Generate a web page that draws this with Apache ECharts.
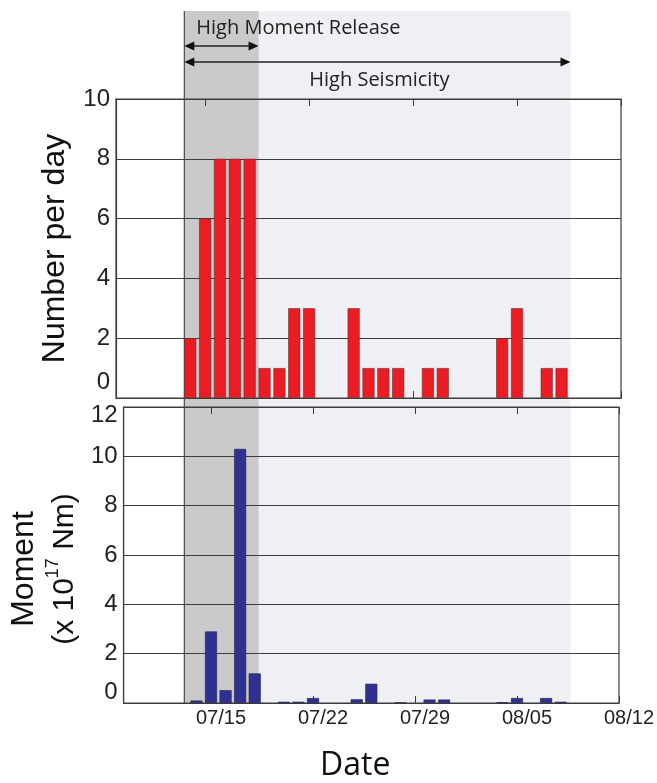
<!DOCTYPE html>
<html><head><meta charset="utf-8">
<script src="https://cdn.jsdelivr.net/npm/echarts@6/dist/echarts.min.js"></script>
<style>html,body{margin:0;padding:0;background:#fff}#c{width:657px;height:783px}</style>
</head><body><div id="c"></div>
<script>
// ---- data ----
const dates = ['07/14','07/15','07/16','07/17','07/18','07/19','07/20','07/21','07/22','07/23','07/24','07/25','07/26','07/27','07/28','07/29','07/30','07/31','08/01','08/02','08/03','08/04','08/05','08/06','08/07','08/08'];
const counts = [2,6,8,8,8,1,1,3,3,0,0,3,1,1,1,0,1,1,0,0,0,2,3,0,1,1];
const moments = [0.1,2.9,0.52,10.3,1.2,0,0.05,0.05,0.2,0,0,0.15,0.78,0,0.02,0,0.14,0.14,0,0,0,0.03,0.2,0,0.2,0.05];
const countTicks = [0,2,4,6,8,10];
const momentTicks = [0,2,4,6,8,10,12];
const dateTicks = ['07/15','07/22','07/29','08/05','08/12'];
const axisRange = ['07/09','08/12'];
// periods in days relative to 07/15
const periodLabels = ['High Moment Release','High Seismicity'];
const periodFrom = [-1.4,-1.4];
const periodTo = [3.6,24.6];

const ref = Date.UTC(2000,6,15);
function dayOf(s){const [m,d]=s.split('/').map(Number);return (Date.UTC(2000,m-1,d)-ref)/86400000;}
const tickDays = dateTicks.map(dayOf);
const xMin = dayOf(axisRange[0]), xMax = dayOf(axisRange[1]);

const FONT = '"Liberation Sans", Arial, sans-serif';
const dark = '#3d3d3d';

function xAx(grid, pos, labels){
  const a = {
    gridIndex:grid, type:'value', min:xMin, max:xMax, position:pos,
    axisLine:{show:true, onZero:false, lineStyle:{color:dark,width:1.2}},
    axisTick:{show:true, inside:true, length:7, customValues:tickDays, lineStyle:{color:dark,width:1}},
    axisLabel:{show:labels}, splitLine:{show:false}
  };
  if(labels){
    a.axisLabel = {show:true, customValues:tickDays, margin:5, fontSize:20, fontFamily:FONT, color:'#222',
      padding:[0,0,0,20], formatter:v=>dateTicks[tickDays.indexOf(v)]};
    a.name='Date'; a.nameLocation='middle'; a.nameGap=47;
    a.nameTextStyle={fontSize:32, fontFamily:'"Open Sans", sans-serif', color:'#111', padding:[0,32,0,0]};
  }
  return a;
}
function yLabel(ticks, shifts){
  return {
    margin:6, fontSize:24, fontFamily:FONT, color:'#222',
    formatter:v=>{const i=ticks.indexOf(v); const k=shifts[i]; return k?('{'+k+'|'+v+'}'):String(v);},
    rich:{
      up16:{fontSize:24,fontFamily:FONT,color:'#222',padding:[0,0,32,0]},
      up11:{fontSize:24,fontFamily:FONT,color:'#222',padding:[0,0,22,0]},
      dn8:{fontSize:24,fontFamily:FONT,color:'#222',padding:[16,0,0,0]}
    }
  };
}

const chart = echarts.init(document.getElementById('c'), null, {renderer:'canvas'});
const option = {
  animation:false,
  backgroundColor:'#fff',
  grid:[
    {left:116, right:36, top:99, height:299, show:true, borderColor:dark, borderWidth:1.2, backgroundColor:'transparent'},
    {left:116, right:36, top:407, bottom:76, show:true, borderColor:dark, borderWidth:1.2, backgroundColor:'transparent'}
  ],
  xAxis:[xAx(0,'bottom',false), xAx(0,'top',false), xAx(1,'bottom',true), xAx(1,'top',false)],
  yAxis:[
    {gridIndex:0, type:'value', min:0, max:10, interval:2, position:'left',
     axisLine:{show:true, onZero:false, lineStyle:{color:dark,width:1.2}}, axisTick:{show:false},
     splitLine:{show:true, lineStyle:{color:dark,width:1.1}},
     axisLabel:yLabel(countTicks, ['up16',0,0,0,0,0]),
     name:'Number per day', nameLocation:'middle', nameGap:44,
     nameTextStyle:{fontSize:32, fontFamily:FONT, color:'#111', lineHeight:34}},
    {gridIndex:1, type:'value', min:0, max:12, interval:2, position:'left',
     axisLine:{show:true, onZero:false, lineStyle:{color:dark,width:1.2}}, axisTick:{show:false},
     splitLine:{show:true, lineStyle:{color:dark,width:1.1}},
     axisLabel:yLabel(momentTicks, ['up11',0,0,0,0,0,'dn8']),
     name:'{a|Moment}\n{b|(x 10}{s|17}{b| Nm)}', nameLocation:'middle', nameGap:36,
     nameTextStyle:{padding:[0,28,0,0], rich:{
       a:{fontSize:32, fontFamily:FONT, color:'#111', lineHeight:41},
       b:{fontSize:30, fontFamily:FONT, color:'#111', lineHeight:41},
       s:{fontSize:18, fontFamily:FONT, color:'#111', lineHeight:41, verticalAlign:'top', padding:[0,0,14,0]}
     }}}
  ],
  series:[
    {type:'bar', xAxisIndex:0, yAxisIndex:0, barWidth:12,
     data:dates.map((d,i)=>[dayOf(d),counts[i]]).filter(p=>p[1]>0),
     itemStyle:{color:'#ec1c24', borderColor:'#6a2a2a', borderWidth:0.6}},
    {type:'bar', xAxisIndex:2, yAxisIndex:1, barWidth:12,
     data:dates.map((d,i)=>[dayOf(d),moments[i]]).filter(p=>p[1]>0),
     itemStyle:{color:'#2e3192', borderColor:'#22224a', borderWidth:0.6}}
  ]
};
chart.setOption(option);

const px = v => chart.convertToPixel({xAxisIndex:0}, v);
const top1 = chart.convertToPixel({yAxisIndex:0}, 10);
const bot2 = chart.convertToPixel({yAxisIndex:1}, 0);
const shadeTop = top1 - 88;
const els = [];
const x0 = px(periodFrom[1]), x1 = px(periodTo[1]);
const xm0 = px(periodFrom[0]), xm1 = px(periodTo[0]);
els.push({type:'rect', z:-10, shape:{x:x0, y:shadeTop, width:x1-x0, height:bot2-shadeTop}, style:{fill:'#eef0f3'}});
els.push({type:'rect', z:-9, shape:{x:xm0, y:shadeTop, width:xm1-xm0, height:bot2-shadeTop}, style:{fill:'#cacaca'}});
els.push({type:'line', z:1, shape:{x1:x0, y1:shadeTop, x2:x0, y2:bot2}, style:{stroke:'#4a4a4a', lineWidth:1.2}});
function arrow(xa, xb, y){
  els.push({type:'line', z:3, shape:{x1:xa+4, y1:y, x2:xb-4, y2:y}, style:{stroke:'#222', lineWidth:1.6}});
  els.push({type:'polygon', z:3, shape:{points:[[xa,y],[xa+10,y-4.5],[xa+10,y+4.5]]}, style:{fill:'#111'}});
  els.push({type:'polygon', z:3, shape:{points:[[xb,y],[xb-10,y-4.5],[xb-10,y+4.5]]}, style:{fill:'#111'}});
}
arrow(xm0, xm1, top1-53);
arrow(x0, x1, top1-37);
const tfont = '20px "Open Sans", sans-serif';
els.push({type:'text', z:3, style:{text:periodLabels[0], x:xm0+12, y:top1-71, font:tfont, fill:'#222', textAlign:'left', textVerticalAlign:'middle', align:'left', verticalAlign:'middle'}});
els.push({type:'text', z:3, style:{text:periodLabels[1], x:(x0+x1)/2+2, y:top1-19, font:tfont, fill:'#222', textAlign:'center', textVerticalAlign:'middle', align:'center', verticalAlign:'middle'}});
chart.setOption({graphic:{elements:els}});
</script></body></html>
